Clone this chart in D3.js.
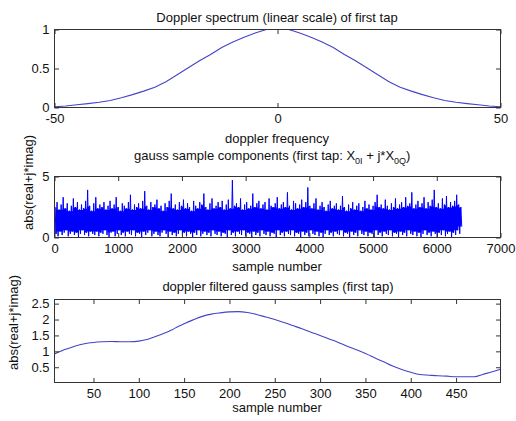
<!DOCTYPE html>
<html>
<head>
<meta charset="utf-8">
<script src="https://cdn.jsdelivr.net/npm/d3@7"></script>
<style>
  body { margin: 0; background: #fff; }
  text { font-family: "Liberation Sans", Arial, sans-serif; font-size: 13px; fill: #111; }
</style>
</head>
<body>
<svg id="fig" width="516" height="421"></svg>
<script>
// Panel 1: Doppler power spectrum of the first tap (linear scale)
const specFreq = [-50, -47.5, -45, -42.5, -40, -37.5, -35, -32.5, -30, -27.5, -25, -22.5, -20, -17.5, -15, -12.5, -10, -7.5, -5, -2.5,
                  0, 2.5, 5, 7.5, 10, 12.5, 15, 17.5, 20, 22.5, 25, 27.5, 30, 32.5, 35, 37.5, 40, 42.5, 45, 47.5, 50];
const specPower = [0.01, 0.02, 0.035, 0.05, 0.068, 0.09, 0.125, 0.165, 0.21, 0.26, 0.33, 0.42, 0.51, 0.6, 0.68, 0.77, 0.84, 0.9, 0.955, 1.0,
                   1.0, 1.0, 0.955, 0.9, 0.84, 0.77, 0.68, 0.6, 0.51, 0.42, 0.33, 0.26, 0.21, 0.165, 0.125, 0.09, 0.068, 0.05, 0.035, 0.02, 0.01];
const specTicksX = [-50, 0, 50];
const specTicksY = [0, 0.5, 1];

// Panel 2: |X0I + j*X0Q| of the gauss samples, as per-block peaks and troughs (32 samples per block)
const noiseBlock = 32;
const noiseHigh = [
  2.5, 2.9, 2.3, 2.7, 3.3, 2.4, 2.8, 2.2, 2.6, 3.2, 2.5, 2.9, 2.3, 2.7, 2.4, 3.0, 3.9, 2.6, 2.2, 2.8,
  3.3, 2.4, 2.7, 2.5, 2.9, 2.3, 2.6, 3.0, 2.4, 2.7, 3.3, 2.5, 2.2, 2.8, 2.6, 2.4, 2.9, 3.5, 2.3, 2.7,
  2.5, 2.8, 2.4, 3.0, 3.8, 2.6, 2.3, 2.9, 2.5, 2.7, 3.1, 2.4, 2.6, 2.2, 2.8, 2.5, 3.0, 3.6, 2.4, 2.7,
  2.3, 2.9, 2.6, 3.1, 2.4, 2.8, 2.5, 2.2, 3.0, 2.6, 2.4, 2.9, 2.7, 3.6, 2.5, 2.3, 2.8, 3.2, 2.4, 2.6,
  2.9, 2.5, 3.0, 2.3, 2.7, 3.1, 2.4, 4.7, 2.6, 2.8, 2.5, 3.2, 2.3, 2.7, 2.9, 2.4, 2.6, 3.6, 2.5, 2.8,
  3.0, 2.4, 2.7, 2.9, 2.3, 3.2, 2.6, 2.5, 2.8, 3.3, 2.4, 2.7, 2.9, 2.5, 3.7, 2.6, 2.3, 3.0, 2.8, 2.4,
  2.7, 3.1, 2.5, 2.9, 4.1, 2.6, 2.4, 2.8, 3.2, 2.3, 2.6, 2.9, 2.5, 2.2, 2.7, 3.0, 2.4, 2.6, 2.8, 2.3,
  2.6, 3.4, 2.5, 2.2, 2.7, 2.4, 2.9, 2.3, 2.6, 2.8, 2.2, 2.5, 3.0, 2.4, 2.7, 2.3, 2.6, 2.9, 3.5, 2.5,
  2.7, 2.4, 3.1, 2.6, 2.3, 2.8, 2.5, 3.2, 2.4, 2.7, 2.9, 2.5, 3.3, 2.6, 2.8, 3.7, 2.4, 2.7, 3.0, 2.5,
  2.8, 3.3, 2.4, 2.9, 2.6, 3.1, 3.9, 2.5, 2.8, 2.4, 3.2, 2.7, 3.4, 2.5, 2.9, 2.6, 3.0, 3.5, 2.7, 2.5
];
const noiseLow = [
  0.3, 0.1, 0.5, 0.2, 0.4, 0.6, 0.1, 0.3, 0.5, 0.2, 0.4, 0.0, 0.3, 0.6, 0.2, 0.4, 0.1, 0.5, 0.3, 0.2,
  0.5, 0.1, 0.4, 0.3, 0.6, 0.2, 0.0, 0.4, 0.5, 0.1, 0.3, 0.6, 0.2, 0.4, 0.1, 0.5, 0.3, 0.2, 0.6, 0.1,
  0.4, 0.3, 0.0, 0.5, 0.2, 0.4, 0.6, 0.1, 0.3, 0.5, 0.2, 0.1, 0.4, 0.6, 0.3, 0.0, 0.5, 0.2, 0.4, 0.1,
  0.3, 0.6, 0.2, 0.4, 0.1, 0.5, 0.3, 0.0, 0.4, 0.2, 0.6, 0.1, 0.3, 0.5, 0.2, 0.4, 0.1, 0.6, 0.3, 0.2,
  0.5, 0.1, 0.4, 0.3, 0.0, 0.6, 0.2, 0.4, 0.1, 0.5, 0.3, 0.2, 0.6, 0.1, 0.4, 0.3, 0.0, 0.5, 0.2, 0.4,
  0.1, 0.6, 0.3, 0.2, 0.5, 0.1, 0.4, 0.3, 0.0, 0.6, 0.2, 0.4, 0.1, 0.5, 0.3, 0.2, 0.6, 0.1, 0.4, 0.3,
  0.0, 0.5, 0.2, 0.4, 0.1, 0.6, 0.3, 0.2, 0.5, 0.1, 0.4, 0.0, 0.3, 0.6, 0.2, 0.4, 0.1, 0.5, 0.3, 0.2,
  0.6, 0.1, 0.4, 0.3, 0.0, 0.5, 0.2, 0.4, 0.1, 0.6, 0.3, 0.2, 0.5, 0.1, 0.4, 0.3, 0.0, 0.6, 0.2, 0.4,
  0.1, 0.5, 0.3, 0.2, 0.6, 0.1, 0.4, 0.3, 0.0, 0.5, 0.2, 0.4, 0.1, 0.6, 0.3, 0.2, 0.5, 0.1, 0.4, 0.0,
  0.3, 0.6, 0.2, 0.4, 0.1, 0.5, 0.3, 0.0, 0.4, 0.2, 0.6, 0.1, 0.3, 0.5, 0.0, 0.4, 0.2, 0.6, 0.3, 0.9
];
const noiseTicksX = [0, 1000, 2000, 3000, 4000, 5000, 6000, 7000];
const noiseTicksY = [0, 5];

// Panel 3: Doppler-filtered gauss samples
const filtSample = [7, 20, 30, 40, 50, 60, 70, 80, 90, 100, 110, 120, 130, 140, 150, 160, 170, 180, 190, 200,
                    210, 220, 230, 240, 250, 260, 270, 280, 290, 300, 310, 320, 330, 340, 350, 360, 370, 380, 390, 400,
                    410, 420, 430, 440, 450, 460, 470, 480, 490, 499];
const filtMag = [0.92, 1.07, 1.17, 1.24, 1.28, 1.30, 1.31, 1.30, 1.30, 1.32, 1.38, 1.48, 1.59, 1.73, 1.87, 1.99, 2.10, 2.17, 2.21, 2.24,
                 2.25, 2.22, 2.16, 2.08, 2.00, 1.91, 1.81, 1.71, 1.60, 1.50, 1.39, 1.28, 1.16, 1.05, 0.93, 0.80, 0.67, 0.54, 0.43, 0.34,
                 0.27, 0.25, 0.23, 0.22, 0.20, 0.20, 0.20, 0.28, 0.36, 0.44];
const filtTicksX = [50, 100, 150, 200, 250, 300, 350, 400, 450];
const filtTicksY = [0.5, 1, 1.5, 2, 2.5];

const svg = d3.select("#fig");
const L = 54.5, R = 500.5;
const boxColor = "#333";
const tickLen = 4.5;

function panel(id, top, bottom, xDomain, yDomain, xTicks, yTicks) {
  const x = d3.scaleLinear().domain(xDomain).range([L, R]);
  const y = d3.scaleLinear().domain(yDomain).range([bottom, top]);
  const g = svg.append("g").attr("class", id);
  const fmt = d => String(d);

  svg.append("clipPath").attr("id", "clip-" + id)
    .append("rect").attr("x", L).attr("y", top).attr("width", R - L).attr("height", bottom - top);

  const plot = g.append("g").attr("clip-path", `url(#clip-${id})`);
  const axes = [
    [d3.axisBottom(x).tickValues(xTicks).tickFormat(fmt).tickPadding(6.5), `translate(0,${bottom})`],
    [d3.axisTop(x).tickValues(xTicks).tickFormat(""), `translate(0,${top})`],
    [d3.axisLeft(y).tickValues(yTicks).tickFormat(fmt).tickPadding(5), `translate(${L},0)`],
    [d3.axisRight(y).tickValues(yTicks).tickFormat(""), `translate(${R},0)`]
  ];
  axes.forEach(([ax, tr]) => {
    const a = g.append("g").attr("transform", tr)
      .call(ax.tickSizeInner(-tickLen).tickSizeOuter(0));
    a.select(".domain").remove();
    a.selectAll(".tick line").attr("stroke", boxColor);
    a.selectAll(".tick text").attr("fill", "#111")
      .style("font-family", '"Liberation Sans", Arial, sans-serif').style("font-size", "13px");
  });
  g.append("rect").attr("x", L).attr("y", top).attr("width", R - L).attr("height", bottom - top)
    .attr("fill", "none").attr("stroke", boxColor).attr("stroke-width", 1);
  return { x, y, g, plot };
}

// ---- Panel 1
const p1 = panel("spec", 29.5, 107.5, [-50, 50], [0, 1], specTicksX, specTicksY);
p1.plot.append("path")
  .datum(specFreq.map((f, i) => [f, specPower[i]]))
  .attr("fill", "none").attr("stroke", "#4444c8").attr("stroke-width", 1.1)
  .attr("d", d3.line().x(d => p1.x(d[0])).y(d => p1.y(d[1])));
svg.append("text").attr("x", 277).attr("y", 21.5).attr("text-anchor", "middle")
  .text("Doppler spectrum (linear scale) of first tap");
svg.append("text").attr("x", 277).attr("y", 143).attr("text-anchor", "middle")
  .text("doppler frequency");

// ---- Panel 2
const p2 = panel("noise", 176.5, 237.5, [0, 7000], [0, 5], noiseTicksX, noiseTicksY);
// dense core of the trace: where neighbouring blocks all overlap
const nb = noiseHigh.length;
const core = noiseHigh.map((h, i) => {
  const idx = [Math.max(0, i - 1), i, Math.min(nb - 1, i + 1)];
  return {
    s: i * noiseBlock + noiseBlock / 2,
    top: d3.min(idx, k => noiseHigh[k]) - 0.05,
    bot: d3.max(idx, k => noiseLow[k])
  };
});
p2.plot.append("path")
  .datum(core)
  .attr("fill", "#0000ff").attr("stroke", "none")
  .attr("d", d3.area().curve(d3.curveStep)
    .x(d => p2.x(d.s)).y0(d => p2.y(d.bot)).y1(d => p2.y(d.top)));
const noisePts = [];
noiseHigh.forEach((h, i) => {
  noisePts.push([i * noiseBlock + 8, h]);
  noisePts.push([i * noiseBlock + 24, noiseLow[i]]);
});
p2.plot.append("path")
  .datum(noisePts)
  .attr("fill", "none").attr("stroke", "#0000ff").attr("stroke-width", 1)
  .attr("d", d3.line().x(d => p2.x(d[0])).y(d => p2.y(d[1])));
const t2 = svg.append("text").attr("x", 134).attr("y", 159.5);
t2.append("tspan").text("gauss sample components (first tap: X");
t2.append("tspan").attr("dy", 4).style("font-size", "9px").text("0I");
t2.append("tspan").attr("dy", -4).text(" + j*X");
t2.append("tspan").attr("dy", 4).style("font-size", "9px").text("0Q");
t2.append("tspan").attr("dy", -4).text(")");
svg.append("text").attr("x", 277).attr("y", 270.5).attr("text-anchor", "middle")
  .text("sample number");
svg.append("text").attr("transform", "translate(33,182.5) rotate(-90)").attr("text-anchor", "middle")
  .text("abs(real+j*imag)");

// ---- Panel 3
const p3 = panel("filt", 299.5, 382.5, [7, 499], [0.02, 2.63], filtTicksX, filtTicksY);
p3.plot.append("path")
  .datum(filtSample.map((s, i) => [s, filtMag[i]]))
  .attr("fill", "none").attr("stroke", "#4444c8").attr("stroke-width", 1.1)
  .attr("d", d3.line().curve(d3.curveMonotoneX).x(d => p3.x(d[0])).y(d => p3.y(d[1])));
svg.append("text").attr("x", 278).attr("y", 291).attr("text-anchor", "middle")
  .text("doppler filtered gauss samples (first tap)");
svg.append("text").attr("x", 277).attr("y", 412).attr("text-anchor", "middle")
  .text("sample number");
svg.append("text").attr("transform", "translate(18,322.5) rotate(-90)").attr("text-anchor", "middle")
  .text("abs(real+j*imag)");
</script>
</body>
</html>
